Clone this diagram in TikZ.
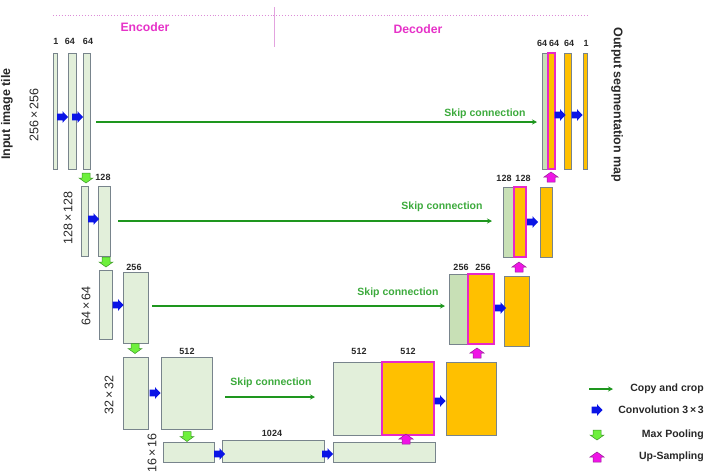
\documentclass[tikz,border=0pt]{standalone}
\usepackage{fontspec}
\setmainfont{Liberation Sans}
\usetikzlibrary{arrows.meta}
\definecolor{encfill}{RGB}{226,239,218}
\definecolor{cpyfill}{RGB}{200,224,182}
\definecolor{barline}{RGB}{120,132,140}
\definecolor{orng}{RGB}{255,192,0}
\definecolor{mag}{RGB}{232,40,200}
\definecolor{convblue}{RGB}{10,20,230}
\definecolor{poolgreen}{RGB}{110,240,60}
\definecolor{pooledge}{RGB}{60,150,40}
\definecolor{upmag}{RGB}{240,20,230}
\definecolor{upedge}{RGB}{150,30,150}
\definecolor{skipgreen}{RGB}{30,150,30}
\definecolor{skiptext}{RGB}{60,170,60}
\definecolor{titlemag}{RGB}{230,50,200}
\definecolor{txt}{RGB}{40,40,40}
\definecolor{guide}{RGB}{220,140,215}
\newcommand\blk[6]{\node[#6, anchor=north west, minimum width={(#4-#2)*1pt}, minimum height={(#5-#3)*1pt}] (#1) at (#2,#3) {};}
\tikzset{
  ebar/.style={draw=barline, fill=encfill, line width=0.8pt, inner sep=0pt, outer sep=0pt},
  cbar/.style={ebar, fill=cpyfill},
  obar/.style={ebar, fill=orng},
  mbar/.style={ebar, draw=mag, fill=orng, line width=1.6pt},
  num/.style={font=\bfseries\fontsize{9}{10}\selectfont, text=txt, inner sep=0pt},
  dimlbl/.style={font=\fontsize{12.5}{14}\selectfont, rotate=90, text=txt, inner sep=0pt},
  sidelbl/.style={font=\bfseries\fontsize{12.5}{14}\selectfont, text=txt, inner sep=0pt},
  skiplbl/.style={font=\bfseries\fontsize{10.5}{12}\selectfont, text=skiptext, inner sep=0pt},
  titlelbl/.style={font=\bfseries\fontsize{12.2}{14}\selectfont, text=titlemag, inner sep=0pt},
  leglbl/.style={font=\bfseries\fontsize{10.5}{12}\selectfont, text=txt, inner sep=0pt, anchor=east},
  skip/.style={draw=skipgreen, line width=1.4pt, -{Stealth[length=5pt,width=5pt]}},
  convarrow/.pic={\fill[convblue] (-5.5,-3.3) -- (0,-3.3) -- (0,-5.8) -- (5.5,0) -- (0,5.8) -- (0,3.3) -- (-5.5,3.3) -- cycle;},
  poolarrow/.pic={\filldraw[fill=poolgreen, draw=pooledge, line width=0.5pt] (-4,-5) -- (4,-5) -- (4,0) -- (7,0) -- (0,5) -- (-7,0) -- (-4,0) -- cycle;},
  uparrow/.pic={\filldraw[fill=upmag, draw=upedge, line width=0.5pt] (-4,5) -- (4,5) -- (4,0) -- (7,0) -- (0,-5) -- (-7,0) -- (-4,0) -- cycle;},
}
\begin{document}
\begin{tikzpicture}[x=1pt,y=-1pt]
\useasboundingbox (0,0) rectangle (709,475);
% guides
\draw[guide, dotted, line width=0.9pt] (53,15.5) -- (587,15.5);
\draw[guide!80, line width=0.8pt] (274,7) -- (274,47);
\node[titlelbl] (enc) at (145,27) {Encoder};
\node[titlelbl] (dec) at (418,29) {Decoder};
% side labels
\node[sidelbl, rotate=90] (inlbl) at (7,114) {Input image tile};
\node[sidelbl, rotate=-90] (outlbl) at (617,105) {Output segmentation map};
\node[dimlbl] (d256) at (34,115) {256\,×\,256};
\node[dimlbl] (d128) at (68,218) {128\,×\,128};
\node[dimlbl] (d64) at (86,306) {64\,×\,64};
\node[dimlbl] (d32) at (109,395) {32\,×\,32};
\node[dimlbl] (d16) at (152,453) {16\,×\,16};
% encoder bars
\blk{e01}{53}{53}{57.5}{169}{ebar}
\blk{e02}{68}{53}{76}{169}{ebar}
\blk{e03}{83}{53}{90}{169}{ebar}
\blk{e11}{81}{186}{88}{256}{ebar}
\blk{e12}{98}{186}{110}{256}{ebar}
\blk{e21}{99}{270}{112}{339}{ebar}
\blk{e22}{123}{272}{148}{343}{ebar}
\blk{e31}{123}{357}{148}{429}{ebar}
\blk{e32}{161}{357}{212}{429}{ebar}
\blk{b1}{163}{442}{214}{462}{ebar}
\blk{b2}{222}{440}{324}{462}{ebar}
\blk{b3}{333}{442}{435}{462}{ebar}
% decoder bars
\blk{d31}{333}{362}{382}{435}{ebar}
\blk{d33}{446}{362}{496}{435}{obar}
\blk{d21}{449}{274}{468}{344}{cbar}
\blk{d23}{504}{276}{529}{346}{obar}
\blk{d11}{503}{187}{514}{257}{cbar}
\blk{d13}{540}{187}{552}{257}{obar}
\blk{d01}{542}{53}{548}{169}{cbar}
\blk{d03}{564}{53}{571}{169}{obar}
\blk{d04}{583}{53}{587}{169}{obar}
\blk{d32}{382}{362}{434}{435}{mbar}
\blk{d22}{468}{274}{494}{344}{mbar}
\blk{d12}{514}{187}{526}{257}{mbar}
\blk{d02}{548}{53}{555}{169}{mbar}
% channel numbers
\node[num] (n1) at (56,41) {1};
\node[num] (n2) at (70,41) {64};
\node[num] (n3) at (88,41) {64};
\node[num] (n4) at (103,177) {128};
\node[num] (n5) at (134,267) {256};
\node[num] (n6) at (187,351) {512};
\node[num] (n7) at (272,433) {1024};
\node[num] (n8) at (359,351) {512};
\node[num] (n9) at (408,351) {512};
\node[num] (n10) at (461,267) {256};
\node[num] (n11) at (483,267) {256};
\node[num] (n12) at (504,178) {128};
\node[num] (n13) at (523,178) {128};
\node[num] (n14) at (542,43) {64};
\node[num] (n15) at (554,43) {64};
\node[num] (n16) at (569,43) {64};
\node[num] (n17) at (586,43) {1};
% conv arrows
\pic (c1) at (62.5,117) {convarrow};
\pic (c2) at (77.5,117) {convarrow};
\pic (c3) at (93.5,219) {convarrow};
\pic (c4) at (118,305) {convarrow};
\pic (c5) at (155,393) {convarrow};
\pic (c6) at (219.5,454) {convarrow};
\pic (c7) at (327.5,454) {convarrow};
\pic (c8) at (440,401) {convarrow};
\pic (c9) at (500.5,308) {convarrow};
\pic (c10) at (532.5,222) {convarrow};
\pic (c11) at (560,115) {convarrow};
\pic (c12) at (577,115) {convarrow};
% pooling arrows
\pic (p1) at (86,178) {poolarrow};
\pic (p2) at (106,262) {poolarrow};
\pic (p3) at (135,348.5) {poolarrow};
\pic (p4) at (187,436.5) {poolarrow};
% up-sampling arrows
\pic (u1) at (406,439) {uparrow};
\pic (u2) at (477,353) {uparrow};
\pic (u3) at (519,267) {uparrow};
\pic (u4) at (551,177) {uparrow};
% skip connections
\coordinate (s0a) at (96,122); \coordinate (s0b) at (537,122);
\coordinate (s1a) at (118,221); \coordinate (s1b) at (492,221);
\coordinate (s2a) at (152,306); \coordinate (s2b) at (445,306);
\coordinate (s3a) at (225,397); \coordinate (s3b) at (315,397);
\draw[skip] (s0a) -- (s0b);
\draw[skip] (s1a) -- (s1b);
\draw[skip] (s2a) -- (s2b);
\draw[skip] (s3a) -- (s3b);
\node[skiplbl] (k0) at (485,114) {Skip connection};
\node[skiplbl] (k1) at (442,207) {Skip connection};
\node[skiplbl] (k2) at (398,293) {Skip connection};
\node[skiplbl] (k3) at (271,383) {Skip connection};
% legend
\coordinate (la) at (589,389); \coordinate (lb) at (613,389);
\draw[skip] (la) -- (lb);
\node[leglbl] (l1) at (704,389) {Copy and crop};
\pic (lc) at (597,410) {convarrow};
\node[leglbl] (l2) at (704,410) {Convolution 3\,×\,3};
\pic (lp) at (597,435) {poolarrow};
\node[leglbl] (l3) at (704,435) {Max Pooling};
\pic (lu) at (597,457) {uparrow};
\node[leglbl] (l4) at (704,457) {Up-Sampling};
\end{tikzpicture}
\end{document}
